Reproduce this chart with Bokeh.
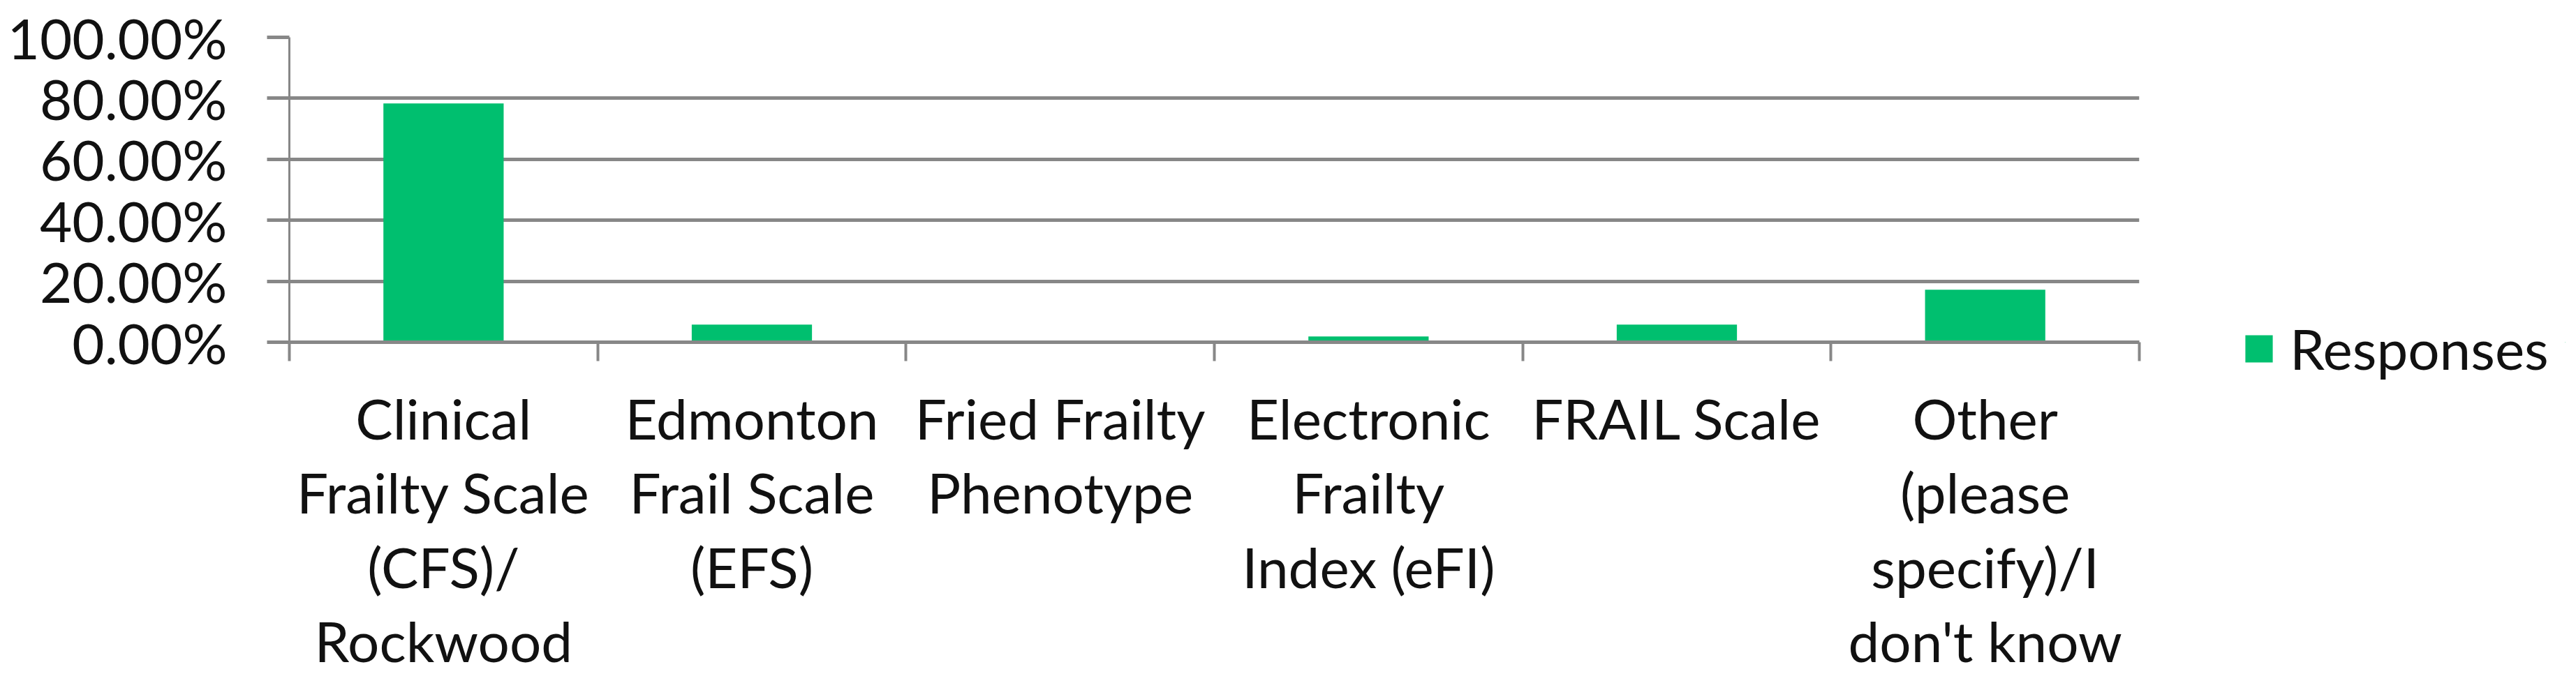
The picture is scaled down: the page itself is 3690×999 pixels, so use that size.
from bokeh.plotting import figure
from bokeh.layouts import row
from bokeh.models import (Range1d, FixedTicker, NumeralTickFormatter, Legend,
                          LegendItem, ColumnDataSource)
from bokeh.embed import file_html
from bokeh.resources import INLINE

# ---- data ----
categories = [
    "Clinical\nFrailty Scale\n(CFS)/\nRockwood",
    "Edmonton\nFrail Scale\n(EFS)",
    "Fried Frailty\nPhenotype",
    "Electronic\nFrailty\nIndex (eFI)",
    "FRAIL Scale",
    "Other\n(please\nspecify)/I\ndon't know",
]
responses = [0.783, 0.058, 0.0, 0.019, 0.058, 0.172]
y_ticks = [0.0, 0.2, 0.4, 0.6, 0.8, 1.0]
series_name = "Responses"

FONT = "Lato"
GRID = "#878787"
GREEN = "#00BF6F"
TEXT = "#111111"

xs = [i + 0.5 for i in range(len(categories))]
src = ColumnDataSource(dict(x=xs, top=responses))

p = figure(width=3211, height=983, output_backend="svg", toolbar_location=None,
           x_range=Range1d(0, len(categories)), y_range=Range1d(0, 1.0),
           min_border_left=414, min_border_right=147, min_border_top=53,
           min_border_bottom=493)
p.outline_line_color = None
p.background_fill_color = "white"
p.border_fill_color = "white"

r = p.vbar(x="x", top="top", width=0.39, source=src, fill_color=GREEN,
           line_color=None)

# y axis
ya = p.yaxis[0]
ya.ticker = FixedTicker(ticks=y_ticks)
ya.formatter = NumeralTickFormatter(format="0.00%")
ya.axis_line_color = GRID
ya.axis_line_width = 3
ya.major_tick_out = 32
ya.major_tick_in = 0
ya.major_tick_line_color = GRID
ya.major_tick_line_width = 5
ya.minor_tick_line_color = None
ya.major_label_standoff = 57
ya.major_label_text_font = FONT
ya.major_label_text_font_size = "80px"
ya.major_label_text_color = TEXT

# x axis
xa = p.xaxis[0]
xa.ticker = FixedTicker(ticks=xs, minor_ticks=list(range(len(categories) + 1)))
xa.major_label_overrides = {x: c for x, c in zip(xs, categories)}
xa.major_tick_line_color = None
xa.minor_tick_out = 27
xa.minor_tick_in = 0
xa.minor_tick_line_color = GRID
xa.minor_tick_line_width = 4
xa.axis_line_color = GRID
xa.axis_line_width = 5
xa.major_label_standoff = 33
xa.major_label_text_font = FONT
xa.major_label_text_font_size = "80px"
xa.major_label_text_color = TEXT
xa.major_label_text_line_height = 1.11

p.xgrid.grid_line_color = None
p.ygrid.ticker = FixedTicker(ticks=y_ticks)
p.ygrid.grid_line_color = GRID
p.ygrid.grid_line_width = 5

# legend figure (legend sits in a side panel so it is never clipped);
# its ranges keep the series' bars out of its own tiny frame
p2 = figure(width=463, height=983, output_backend="svg", toolbar_location=None,
            x_range=Range1d(10, 11), y_range=Range1d(10, 11),
            min_border_left=0, min_border_right=0, min_border_top=0,
            min_border_bottom=0)
p2.axis.visible = False
p2.grid.grid_line_color = None
p2.outline_line_color = None
r2 = p2.vbar(x="x", top="top", width=0.39, source=src,
             fill_color=GREEN, line_color=None)

legend = Legend(items=[LegendItem(label=series_name, renderers=[r2])],
                location=(0, -57), orientation="vertical",
                padding=0, margin=0, spacing=0, border_line_color=None,
                background_fill_alpha=0, glyph_width=49, glyph_height=49,
                label_height=49, label_standoff=20,
                label_text_font=FONT, label_text_font_size="80px",
                label_text_color=TEXT)
p2.add_layout(legend, "left")

layout = row(p, p2, spacing=0)
open("out.html", "w").write(file_html(layout, INLINE))
